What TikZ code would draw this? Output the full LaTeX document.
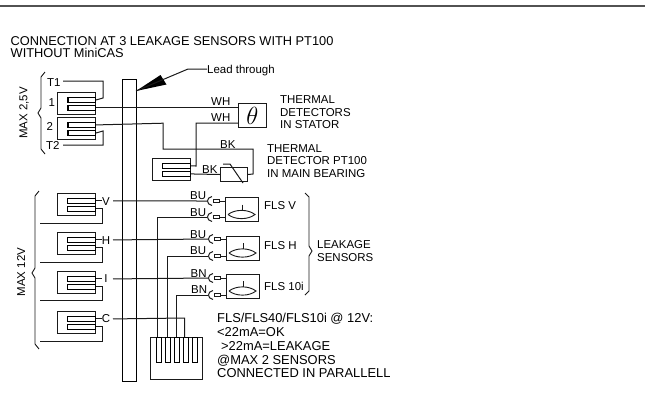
\documentclass[tikz,border=0pt]{standalone}
\usepackage{fontspec}
\setmainfont{Liberation Sans}
\newcommand{\fsA}{\fontsize{12.95}{13.9}\selectfont}
\newcommand{\fsT}{\fontsize{12.85}{12.6}\selectfont}
\newcommand{\fsB}{\fontsize{11.5}{12.6}\selectfont}
\definecolor{wirec}{HTML}{1a1a1a}
\tikzset{
  wire/.style={draw=wirec,line width=1bp},
  outer/.style={draw=wirec,line width=0.9bp,rectangle,inner sep=0,anchor=north west,minimum width=37.5bp,minimum height=21.5bp},
  finger/.style={draw=black,line width=1.35bp,rectangle,inner sep=0,anchor=north west,minimum width=27.5bp,minimum height=4.5bp},
  sensbox/.style={draw=wirec,line width=1bp,rectangle,inner sep=0,anchor=north west,minimum width=33bp},
  plug/.style={draw=wirec,line width=1bp,rectangle,inner sep=0,minimum width=6bp,minimum height=3.6bp},
  lab/.style={inner sep=0,anchor=base west,font=\fsB,text=black},
  multi/.style={inner sep=0,anchor=north west,align=left,text=black},
  bar/.style={draw=black,line width=1.1bp,rectangle,inner sep=0,anchor=north west},
}
% block: name, left x, top y
\newcommand{\tblock}[3]{%
  \node[outer] (#1) at (#2,#3) {};
  \node[finger] (#1a) at (#2+10,#3+5) {};
  \node[finger] (#1b) at (#2+10,#3+13) {};
}
% sensor: name, left x, top y, height, upper wire y, lower wire y, lens y
\newcommand{\fls}[7]{%
  \node[sensbox,minimum height=#4 bp] (#1) at (#2,#3) {};
  \node[plug] (#1p) at (#2-9,#5) {};
  \node[plug] (#1q) at (#2-9,#6) {};
  \coordinate (#1pw) at (#2-18,#5);
  \coordinate (#1qw) at (#2-18,#6);
  \draw[wire] (#1p) -- (#1p-|#1.west);
  \draw[wire] (#1q) -- (#1q-|#1.west);
  \draw[wire] (#2-13,#5-4.5) .. controls (#2-19,#5-3.5) and (#2-19,#5+3.5) .. (#2-13,#5+4.5);
  \draw[wire] (#2-13,#6-4.5) .. controls (#2-19,#6-3.5) and (#2-19,#6+3.5) .. (#2-13,#6+4.5);
  \draw[wire,line width=0.9bp] (#2+3,#7) .. controls (#2+10,#7-5.5) and (#2+23,#7-5.5) .. (#2+30,#7) .. controls (#2+23,#7+5.5) and (#2+10,#7+5.5) .. (#2+3,#7);
  \draw[wire,line width=0.9bp] (#2+17,#7-10) -- (#2+17,#7-4);
}
\begin{document}
\begin{tikzpicture}[x=1bp,y=-1bp]
\useasboundingbox (0,0) rectangle (645,400);
\fill[white] (0,0) rectangle (645,400);
\coordinate (rl) at (0,5.5);
\coordinate (rr) at (645,5.5);
\draw[draw=black!68,line width=2bp] (rl) -- (rr);

\node[multi,font=\fsT] (title) at (10.5,36) {CONNECTION AT 3 LEAKAGE SENSORS WITH PT100\\WITHOUT MiniCAS};

% lead-through bar
\node[bar,minimum width=14bp,minimum height=302bp] (bar) at (122,79) {};
\coordinate (tip) at (136,91);
\node[lab] (lead) at (207,73) {Lead through};
\coordinate (lk) at (188,69);
\fill[black] (tip) -- (160.5,75) -- (166.5,84.5) -- cycle;
\draw[wire] (tip) -- (lk) -- (lead.west|-lk);

% terminal blocks upper
\tblock{one}{57.3}{92}
\tblock{two}{57.3}{117}
\tblock{pt}{152}{158}
\coordinate (tonel) at (63,81);
\coordinate (ttwol) at (63,145);
\draw[wire] (tonel) -- (103,81) -- (103,98) -- (onea.east);
\draw[wire] (ttwol) -- (103,145) -- (103,131) -- (twob.east);
\node[lab] (t1) at (47,86) {T1};
\node[lab] (n1) at (48.5,106.5) {1};
\node[lab] (n2) at (46.5,130) {2};
\node[lab] (t2) at (46,149) {T2};

% thermal detector
\node[draw=wirec,line width=1bp,rectangle,inner sep=0,minimum width=27.5bp,minimum height=24bp,anchor=north west] (theta) at (238,103) {};
\node[inner sep=0,font=\fontsize{25}{25}\selectfont] (thetal) at (theta.center) {$\theta$};
\coordinate (y123) at (0,123);
\coordinate (th2) at (theta.west|-y123);
\draw[wire] (oneb.east) -- (theta.west|-oneb.east);
\draw[wire] (th2) -- (196,123) -- (196,166) -- (pta.east);

% PT100 bearing
\node[draw=wirec,line width=1bp,rectangle,inner sep=0,minimum width=27bp,minimum height=14bp,anchor=north west] (res) at (220,167) {};
\coordinate (d1) at (223,164);
\coordinate (d2) at (230,164);
\coordinate (d3) at (243,183);
\draw[wire] (d1) -- (d2) -- (d3);
\draw[wire] (ptb.east) -- (res.west);
\draw[wire] (res.east) -- (253,174) -- (253,149) -- (163,149) -- (163,123.2) -- (twoa.east);

\node[lab] (wh1) at (211,105) {WH};
\node[lab] (wh2) at (211,121) {WH};
\node[lab] (bk1) at (220,148) {BK};
\node[lab] (bk2) at (202,173) {BK};
\node[multi,font=\fsB] (tds) at (280,95.5) {THERMAL\\DETECTORS\\IN STATOR};
\node[multi,font=\fsB] (tdb) at (267,144) {THERMAL\\DETECTOR PT100\\IN MAIN BEARING};

% braces
\draw[wire,line width=0.9bp] (45,72) -- (41,77) -- (41,108) -- (38,113) -- (41,118) -- (41,149) -- (45,154);
\node[font=\fsB,rotate=90,inner sep=0] (m25) at (24,113) {MAX 2,5V};
\draw[wire,line width=0.9bp] (39,191) -- (35,196) -- (35,268) -- (32,273) -- (35,278) -- (35,344) -- (39,349);
\node[font=\fsB,rotate=90,inner sep=0] (m12) at (21,272) {MAX 12V};

% lower terminal blocks
\tblock{v}{57}{193}
\tblock{h}{57}{232}
\tblock{i}{57}{271}
\tblock{c}{57}{311}
\node[lab,anchor=base] (lv) at (106,205) {V};
\node[lab,anchor=base] (lh) at (106,244) {H};
\node[lab,anchor=base] (li) at (106,282.5) {I};
\node[lab,anchor=base] (lc) at (106,322.5) {C};

% sensors
\fls{fv}{225}{197}{24}{201}{217}{214.5}
\fls{fh}{226}{236}{23.5}{239}{256}{253}
\fls{fi}{226}{274}{24}{278}{295}{291}

% signal wires through the bar
\coordinate (xk) at (102,0);
\coordinate (xl) at (113,0);
\foreach \n/\b in {v/223, h/262, i/300, c/341}{
  \coordinate (\n b0) at (40,\b);
  \coordinate (\n b1) at (102,\b);
  \draw[wire] (\n a.east) -- (\n a.east-|lv.west);
  \draw[wire] (\n b.east) -- (\n b.east-|xk) -- (\n b1) -- (\n b0);
}
\draw[wire] (va.east-|xl) -- (fvpw);
\draw[wire] (ha.east-|xl) -- (fhpw);
\draw[wire] (ia.east-|xl) -- (fipw);

% connector block
\node[draw=wirec,line width=0.9bp,rectangle,inner sep=0,minimum width=52bp,minimum height=42bp,anchor=north west] (cb) at (150,337) {};
\foreach \k/\x in {1/156,2/165,3/174,4/183,5/192}{
  \node[draw=black,line width=1.3bp,rectangle,inner sep=0,minimum width=5bp,minimum height=25bp,anchor=north west] (cf\k) at (\x,337) {};
}
\draw[wire] (fvqw) -- (157.5,217) -- (157.5,337);
\draw[wire] (fhqw) -- (167,256) -- (167,337);
\draw[wire] (fiqw) -- (176,295) -- (176,337);
\draw[wire] (ca.east-|xl) -- (184.5,318) -- (184.5,337);

\node[lab] (bu1) at (190,199) {BU};
\node[lab] (bu2) at (190,216) {BU};
\node[lab] (bu3) at (190,238) {BU};
\node[lab] (bu4) at (190,254.5) {BU};
\node[lab] (bn1) at (190.5,277) {BN};
\node[lab] (bn2) at (191,293.5) {BN};

\node[lab] (flv) at (264,209) {FLS V};
\node[lab] (flh) at (264,249) {FLS H};
\node[lab] (fli) at (264,290) {FLS 10i};

\draw[wire,line width=0.9bp] (305,193) -- (309,197) -- (309,246) -- (312,251) -- (309,256) -- (309,291) -- (305,295);
\node[multi,font=\fsB] (leak) at (317,240.5) {LEAKAGE\\SENSORS};

\node[multi,font=\fsA] (note) at (217,313) {FLS/FLS40/FLS10i @ 12V:\\<22mA=OK\\\hspace*{4bp}>22mA=LEAKAGE\\@MAX 2 SENSORS\\CONNECTED IN PARALLELL};
\end{tikzpicture}
\end{document}
